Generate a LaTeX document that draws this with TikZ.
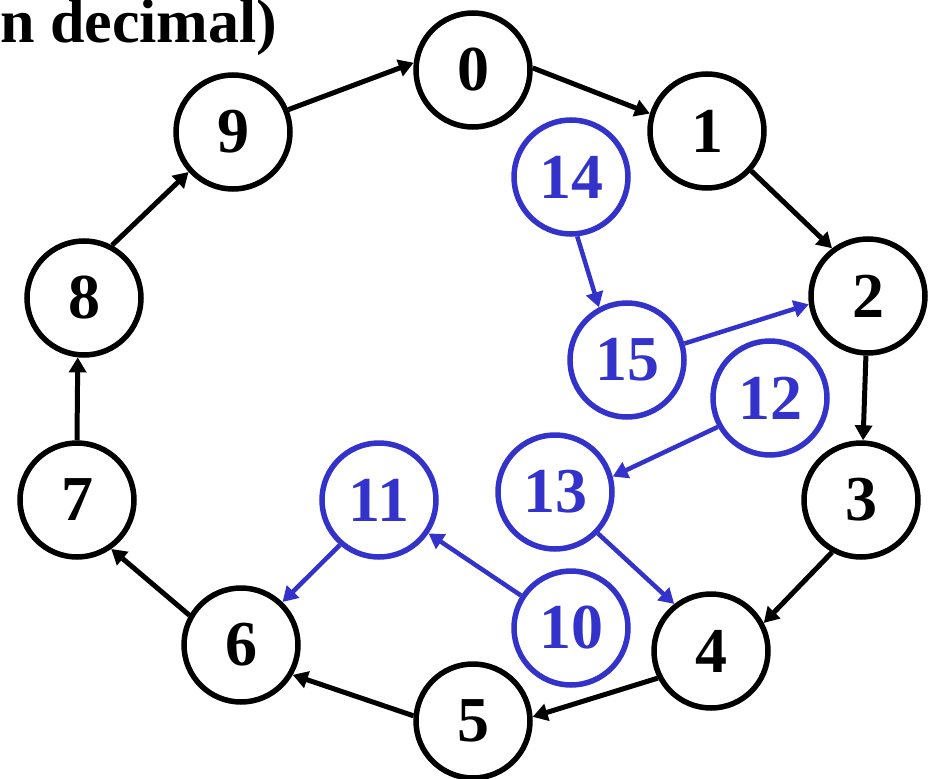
\documentclass[tikz,border=0pt]{standalone}
\usepackage{fontspec}
\setmainfont{Liberation Serif}
\usetikzlibrary{arrows.meta}
\definecolor{ringblue}{RGB}{51,51,204}
\begin{document}
\begin{tikzpicture}[x=1pt,y=-1pt]
\tikzstyle{every node}+=[inner sep=0pt]
\tikzstyle{ring}=[draw=black,circle,line width=5.5pt,minimum size=114pt,font=\fontsize{64}{64}\selectfont\bfseries]
\tikzstyle{bluering}=[ring,draw=ringblue,text=ringblue]
\tikzstyle{link}=[draw=black,line width=5pt,-{Triangle[length=15pt,width=17pt]}]
\tikzstyle{bluelink}=[link,draw=ringblue,line width=4.5pt]
\useasboundingbox (0,0) rectangle (938,779);
\node [anchor=base west,font=\fontsize{62}{62}\selectfont\bfseries] (title) at (0,42) {n decimal)};
% outer ring
\node [ring] (n0) at (473,70) {0};
\node [ring] (n1) at (707,131) {1};
\node [ring] (n2) at (868,296) {2};
\node [ring] (n3) at (861,500) {3};
\node [ring] (n4) at (711,651) {4};
\node [ring] (n5) at (473,721) {5};
\node [ring] (n6) at (241,645) {6};
\node [ring] (n7) at (77,500) {7};
\node [ring] (n8) at (84,298) {8};
\node [ring] (n9) at (233,132) {9};
% inner nodes
\node [bluering] (n14) at (571,177) {14};
\node [bluering] (n15) at (627,360) {15};
\node [bluering] (n12) at (770,398) {12};
\node [bluering] (n13) at (555,492) {13};
\node [bluering] (n11) at (379,500) {11};
\node [bluering] (n10) at (571,628) {10};
\draw [link] (n9.22) -- (n0.173);
\draw [link] (n0.2) -- (n1.163);
\draw [link] (n1.-42) -- (n2.127);
\draw [link] (n2.-92) -- (n3.88);
\draw [link] (n3.-119) -- (n4.28);
\draw [link] (n4.207) -- (n5.4);
\draw [link] (n5.175) -- (n6.-30);
\draw [link] (n6.150) -- (n7.-55);
\draw [link] (n7.90) -- (n8.-96);
\draw [link] (n8.62) -- (n9.-138);
\draw [bluelink] (n14.-84) -- (n15.118);
\draw [bluelink] (n15.16) -- (n2.188);
\draw [bluelink] (n12.209) -- (n13.15);
\draw [bluelink] (n13.-44) -- (n4.128);
\draw [bluelink] (n10.147) -- (n11.-34);
\draw [bluelink] (n11.229) -- (n6.46);
\end{tikzpicture}
\end{document}
